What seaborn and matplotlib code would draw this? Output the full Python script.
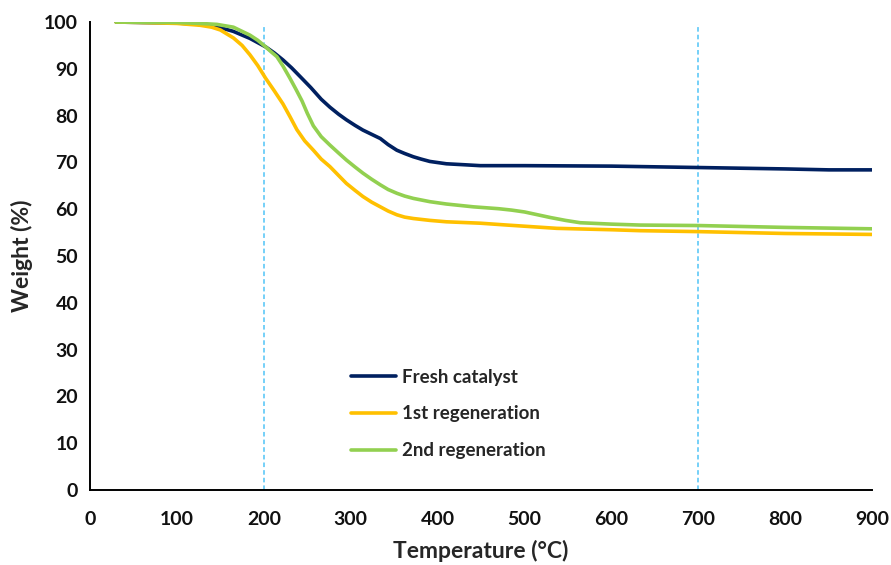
import pandas as pd
import matplotlib.pyplot as plt
import seaborn as sns

sns.set_theme(style="white")
plt.rcParams['font.family'] = ['Lato', 'DejaVu Sans']
plt.rcParams['font.weight'] = 'bold'

# data
fresh_temp = [30, 60, 100, 127, 146, 165, 184, 202, 212, 222, 232, 242, 254, 266, 276, 286, 295, 305,
              314, 324, 334, 343, 353, 362, 372, 381, 391, 410, 430, 449, 500, 600, 700, 800, 850, 900]
fresh_weight = [100, 99.9, 99.8, 99.5, 99.0, 98.0, 96.5, 94.7, 93.4, 91.9, 90.2, 88.3, 86.0, 83.5, 81.8,
                80.3, 79.1, 77.9, 76.9, 76.0, 75.1, 73.8, 72.6, 71.9, 71.2, 70.7, 70.2, 69.7, 69.5, 69.3,
                69.3, 69.2, 68.9, 68.6, 68.4, 68.4]

regen1_temp = [30, 60, 100, 127, 140, 150, 165, 175, 184, 193, 202, 212, 222, 230, 238, 247, 257, 266,
               276, 286, 295, 305, 314, 324, 334, 343, 353, 362, 372, 391, 410, 449, 480, 537, 600, 633,
               700, 800, 900]
regen1_weight = [100, 99.9, 99.7, 99.3, 98.9, 98.3, 96.6, 95.0, 93.0, 90.7, 88.0, 85.3, 82.5, 79.8, 77.0,
                 74.6, 72.6, 70.7, 69.1, 67.2, 65.5, 64.0, 62.7, 61.5, 60.5, 59.6, 58.8, 58.3, 58.0, 57.6,
                 57.3, 57.0, 56.6, 55.9, 55.6, 55.4, 55.2, 54.8, 54.6]

regen2_temp = [30, 100, 127, 146, 165, 184, 193, 202, 208, 215, 222, 230, 237, 244, 250, 257, 266, 276,
               286, 295, 305, 314, 324, 334, 343, 353, 362, 372, 391, 410, 441, 470, 485, 500, 515, 530,
               547, 564, 600, 633, 700, 800, 900]
regen2_weight = [100, 99.9, 99.7, 99.5, 98.9, 97.2, 96.1, 94.7, 93.7, 92.6, 90.6, 88.0, 85.6, 83.1, 80.5,
                 77.8, 75.5, 73.7, 72.0, 70.5, 69.0, 67.7, 66.4, 65.2, 64.2, 63.4, 62.8, 62.3, 61.6, 61.1,
                 60.5, 60.1, 59.8, 59.4, 58.8, 58.2, 57.6, 57.1, 56.8, 56.6, 56.5, 56.1, 55.8]

labels = ["Fresh catalyst", "1st regeneration", "2nd regeneration"]
colors = ["#002060", "#FFC000", "#92D050"]
marker_temps = [200, 700]

df = pd.concat([
    pd.DataFrame({"Temperature": fresh_temp, "Weight": fresh_weight, "Sample": labels[0]}),
    pd.DataFrame({"Temperature": regen1_temp, "Weight": regen1_weight, "Sample": labels[1]}),
    pd.DataFrame({"Temperature": regen2_temp, "Weight": regen2_weight, "Sample": labels[2]}),
], ignore_index=True)

fig = plt.figure(figsize=(8.91, 5.65), dpi=100)
ax = fig.add_axes([0.101, 0.133, 0.878, 0.828])

for t in marker_temps:
    ax.vlines(t, 0, 99.5, colors="#4FC3F7", linestyles=(0, (3, 2)), linewidth=1.1, zorder=1)

sns.lineplot(data=df, x="Temperature", y="Weight", hue="Sample", hue_order=labels,
             palette=colors, linewidth=2.6, sort=False, ax=ax, zorder=3,
             solid_joinstyle="round", solid_capstyle="round")

ax.set_xlim(0, 900)
ax.set_ylim(0, 100)
ax.set_xticks(range(0, 901, 100))
ax.set_yticks(range(0, 101, 10))
ax.tick_params(axis="both", direction="out", length=5, width=1.3, color="black",
               labelsize=14, labelcolor="#111111")
for lab in ax.get_xticklabels() + ax.get_yticklabels():
    lab.set_fontweight("bold")
ax.tick_params(axis="x", pad=10)
for side in ["top", "right"]:
    ax.spines[side].set_visible(False)
for side in ["left", "bottom"]:
    ax.spines[side].set_color("black")
    ax.spines[side].set_linewidth(1.4)

ax.set_xlabel("Temperature (°C)", fontsize=16.5, fontweight="bold", labelpad=9)
ax.set_ylabel("Weight (%)", fontsize=16.5, fontweight="bold", labelpad=8)

leg = ax.legend(loc="upper left", bbox_to_anchor=(0.312, 0.295), frameon=False,
                fontsize=13.5, handlelength=2.4, labelspacing=1.05, handletextpad=0.3)
for text in leg.get_texts():
    text.set_fontweight("bold")
for line in leg.get_lines():
    line.set_linewidth(2.6)

plt.savefig("out.png", dpi=100)
plt.close()
